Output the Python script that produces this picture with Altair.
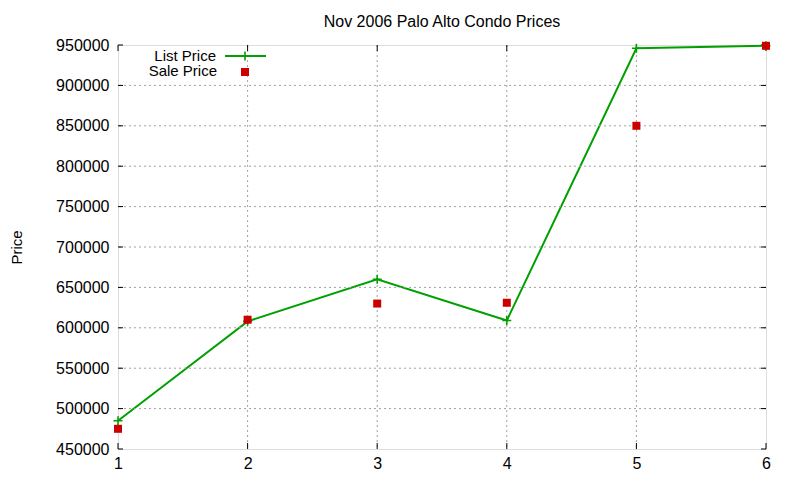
import altair as alt
import pandas as pd

# ---- data ----
units = [1, 2, 3, 4, 5, 6]
list_price = [485000, 608000, 660000, 609000, 946000, 949000]
sale_price = [475000, 610000, 630000, 631000, 850000, 949000]
y_ticks = [450000, 500000, 550000, 600000, 650000, 700000, 750000,
           800000, 850000, 900000, 950000]
x_ticks = [1, 2, 3, 4, 5, 6]
legend_labels = ["List Price", "Sale Price"]
title_text = "Nov 2006 Palo Alto Condo Prices"
y_title = "Price"

W, H = 648, 404
FONT = "Liberation Sans"
GREEN = "#00a000"
RED = "#cc0000"
GRID = "#a0a0a0"
PLUS = "M-1,0H1M0,-1V1"

x_scale = alt.Scale(domain=[1, 6], nice=False, zero=False)
y_scale = alt.Scale(domain=[450000, 950000], nice=False, zero=False)

df_list = pd.DataFrame({"unit": units, "price": list_price})
df_sale = pd.DataFrame({"unit": units, "price": sale_price})
df_y = pd.DataFrame({"v": y_ticks})
df_x = pd.DataFrame({"v": x_ticks})
df_y_in = df_y[(df_y.v > min(y_ticks)) & (df_y.v < max(y_ticks))]
df_x_in = df_x[(df_x.v > min(x_ticks)) & (df_x.v < max(x_ticks))]

x_axis = alt.Axis(values=x_ticks, title="", grid=False, ticks=False, tickSize=0,
                  domain=False, labelFont=FONT, labelFontSize=16, labelColor="black",
                  labelPadding=6, labelFlush=False, labelOverlap=False, format="d")
y_axis = alt.Axis(values=y_ticks, title=y_title, grid=False, ticks=False, tickSize=0,
                  domain=False, labelFont=FONT, labelFontSize=16, labelColor="black",
                  labelPadding=9, labelFlush=False, labelOverlap=False, format="d",
                  titleFont=FONT, titleFontSize=15, titleFontWeight="normal",
                  titleColor="black", titleAngle=270, titleX=-109, titleY=202,
                  titleAlign="center", titleBaseline="top")

X = alt.X("unit:Q", scale=x_scale, axis=x_axis)
Y = alt.Y("price:Q", scale=y_scale, axis=y_axis)

line = alt.Chart(df_list).mark_line(color=GREEN, strokeWidth=2).encode(x=X, y=Y)

grid_y = alt.Chart(df_y_in).mark_rule(color=GRID, strokeDash=[2, 3], strokeWidth=1).encode(
    y=alt.Y("v:Q", scale=y_scale, title=y_title))
grid_x = alt.Chart(df_x_in).mark_rule(color=GRID, strokeDash=[2, 3], strokeWidth=1).encode(
    x=alt.X("v:Q", scale=x_scale, title=""))

tick_l = alt.Chart(df_y).mark_rule(color="black", strokeWidth=1).encode(
    y=alt.Y("v:Q", scale=y_scale, title=y_title), x=alt.value(0), x2=alt.value(5))
tick_r = alt.Chart(df_y).mark_rule(color="black", strokeWidth=1).encode(
    y=alt.Y("v:Q", scale=y_scale, title=y_title), x=alt.value(W - 5), x2=alt.value(W))
tick_b = alt.Chart(df_x).mark_rule(color="black", strokeWidth=1).encode(
    x=alt.X("v:Q", scale=x_scale, title=""), y=alt.value(H - 6), y2=alt.value(H))
tick_t = alt.Chart(df_x).mark_rule(color="black", strokeWidth=1).encode(
    x=alt.X("v:Q", scale=x_scale, title=""), y=alt.value(0), y2=alt.value(6))

plus = alt.Chart(df_list).mark_point(shape=PLUS, size=81, filled=False, stroke=GREEN,
                                     strokeWidth=1.6, opacity=1).encode(x=X, y=Y)
squares = alt.Chart(df_sale).mark_point(shape="square", size=64, filled=True, fill=RED,
                                        strokeWidth=0, opacity=1).encode(x=X, y=Y)

# ---- gnuplot-style key (text left of sample) and title ----
leg1 = pd.DataFrame({"label": [legend_labels[0]]})
leg2 = pd.DataFrame({"label": [legend_labels[1]]})
ttl = pd.DataFrame({"label": [title_text]})
title_mark = alt.Chart(ttl).mark_text(align="center", baseline="alphabetic", font=FONT,
                                      fontSize=16, color="black").encode(
    text="label:N", x=alt.value(W / 2), y=alt.value(-18))
leg_t1 = alt.Chart(leg1).mark_text(align="right", baseline="middle", font=FONT,
                                   fontSize=15, color="black").encode(
    text="label:N", x=alt.value(98), y=alt.value(11))
leg_t2 = alt.Chart(leg2).mark_text(align="right", baseline="middle", font=FONT,
                                   fontSize=15, color="black").encode(
    text="label:N", x=alt.value(99), y=alt.value(26))
leg_line = alt.Chart(leg1).mark_rule(color=GREEN, strokeWidth=2).encode(
    x=alt.value(107), x2=alt.value(148), y=alt.value(11))
leg_plus = alt.Chart(leg1).mark_point(shape=PLUS, size=81, filled=False, stroke=GREEN,
                                      strokeWidth=1.6, opacity=1).encode(
    x=alt.value(127), y=alt.value(11))
leg_sq = alt.Chart(leg2).mark_point(shape="square", size=64, filled=True, fill=RED,
                                    strokeWidth=0, opacity=1).encode(
    x=alt.value(127), y=alt.value(27))

chart = alt.layer(
    line, grid_y, grid_x, tick_l, tick_r, tick_b, tick_t,
    plus, squares,
    title_mark, leg_t1, leg_t2, leg_line, leg_plus, leg_sq,
).properties(
    width=W, height=H,
    autosize=alt.AutoSizeParams(type="none"),
    padding={"left": 110, "top": 37, "right": 20, "bottom": 25},
).configure_view(
    stroke="black", strokeWidth=1
).configure(background="white")

chart.save("out.html", embed_options={"renderer": "svg", "actions": False})
